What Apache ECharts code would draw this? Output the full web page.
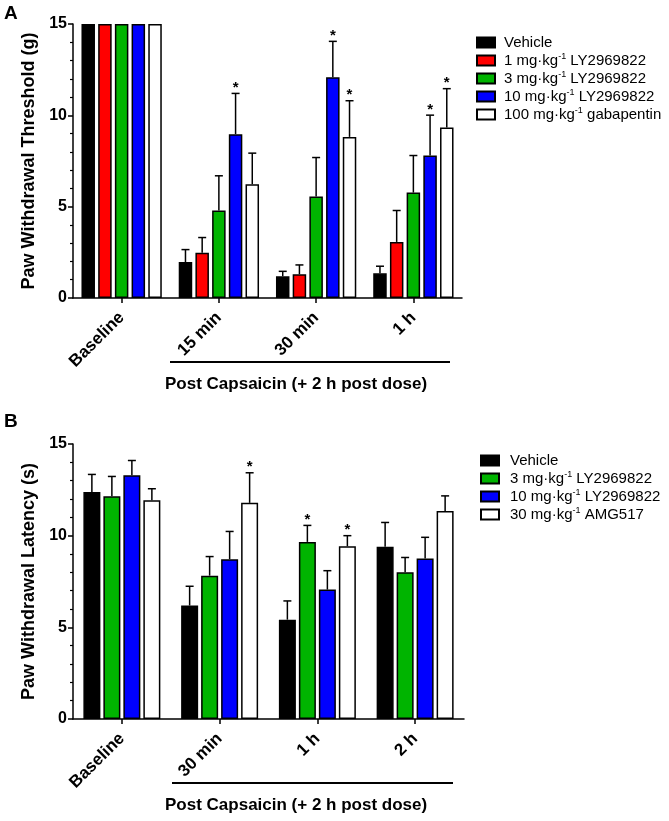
<!DOCTYPE html>
<html>
<head>
<meta charset="utf-8">
<script src="https://cdn.jsdelivr.net/npm/echarts@6/dist/echarts.min.js"></script>
<style>
  html, body { margin: 0; padding: 0; background: #fff; }
  #main { width: 669px; height: 821px; }
</style>
</head>
<body>
<div id="main"></div>
<script>
// panel A - von Frey threshold
var catsA = ['Baseline', '15 min', '30 min', '1 h'];
var namesA = ['Vehicle', '1 mg·kg-1 LY2969822', '3 mg·kg-1 LY2969822', '10 mg·kg-1 LY2969822', '100 mg·kg-1 gabapentin'];
var colorsA = ['#000000', '#ff0000', '#00b400', '#0000ff', '#ffffff'];
var vehicleA = [15, 1.97, 1.19, 1.35];
var ly1A = [15, 2.48, 1.30, 3.07];
var ly3A = [15, 4.79, 5.55, 5.77];
var ly10A = [15, 8.97, 12.09, 7.80];
var gabaA = [15, 6.23, 8.82, 9.34];
var vehicleA_sem = [0, 0.68, 0.27, 0.39];
var ly1A_sem = [0, 0.83, 0.51, 1.72];
var ly3A_sem = [0, 1.90, 2.14, 2.03];
var ly10A_sem = [0, 2.23, 1.96, 2.21];
var gabaA_sem = [0, 1.70, 1.98, 2.12];
var ly10A_sig = [0, 1, 1, 1];
var gabaA_sig = [0, 0, 1, 1];

// panel B - Hargreaves latency
var catsB = ['Baseline', '30 min', '1 h', '2 h'];
var namesB = ['Vehicle', '3 mg·kg-1 LY2969822', '10 mg·kg-1 LY2969822', '30 mg·kg-1 AMG517'];
var colorsB = ['#000000', '#00b400', '#0000ff', '#ffffff'];
var vehicleB = [12.38, 6.19, 5.42, 9.40];
var ly3B = [12.15, 7.82, 9.66, 8.00];
var ly10B = [13.29, 8.72, 7.06, 8.75];
var amgB = [11.93, 11.79, 9.42, 11.34];
var vehicleB_sem = [0.96, 1.05, 1.02, 1.32];
var ly3B_sem = [1.08, 1.04, 0.90, 0.81];
var ly10B_sem = [0.81, 1.51, 1.03, 1.16];
var amgB_sem = [0.63, 1.64, 0.58, 0.83];
var ly3B_sig = [0, 0, 1, 0];
var amgB_sig = [0, 1, 1, 0];

var yTicks = [0, 5, 10, 15];

var FONT = "'Liberation Sans', Arial, sans-serif";
var myChart = echarts.init(document.getElementById('main'));

var panelA = {
    names: namesA, colors: colorsA,
    means: [vehicleA, ly1A, ly3A, ly10A, gabaA],
    sems: [vehicleA_sem, ly1A_sem, ly3A_sem, ly10A_sem, gabaA_sem],
    sigs: [null, null, null, ly10A_sig, gabaA_sig],
    barWidth: 13.5, gap: 3.2
};
var panelB = {
    names: namesB, colors: colorsB,
    means: [vehicleB, ly3B, ly10B, amgB],
    sems: [vehicleB_sem, ly3B_sem, ly10B_sem, amgB_sem],
    sigs: [null, ly3B_sig, null, amgB_sig],
    barWidth: 17, gap: 3
};

function supFormat(name) {
    return name.replace('kg-1', 'kg{sup|-1}');
}

function xAxisFor(cats, gi) {
    return {
        type: 'category', gridIndex: gi, data: cats,
        axisLine: {show: true, lineStyle: {color: '#000', width: 1.5}},
        axisTick: {show: true, alignWithLabel: true, length: 5, lineStyle: {color: '#000', width: 1.5}},
        axisLabel: {rotate: 45, margin: 17, color: '#000', fontSize: 17, fontWeight: 'bold', fontFamily: FONT}
    };
}

function yAxisFor(name, gi) {
    return {
        type: 'value', gridIndex: gi, min: yTicks[0], max: yTicks[yTicks.length - 1], interval: 5,
        name: name, nameLocation: 'middle', nameGap: 35,
        nameTextStyle: {color: '#000', fontSize: 18, fontWeight: 'bold', fontFamily: FONT},
        axisLine: {show: true, lineStyle: {color: '#000', width: 1.5}},
        axisTick: {show: true, length: 5, lineStyle: {color: '#000', width: 1.5}},
        minorTick: {show: true, splitNumber: 5, length: 3, lineStyle: {color: '#000', width: 1.2}},
        splitLine: {show: false},
        axisLabel: {margin: 6, color: '#000', fontSize: 16, fontWeight: 'bold', fontFamily: FONT}
    };
}

function legendFor(panel, left, top, textPad) {
    return {
        data: panel.names, orient: 'vertical', left: left, top: top, padding: 0,
        icon: 'rect', itemWidth: 18, itemHeight: 10, itemGap: 1,
        selectedMode: false,
        formatter: supFormat,
        textStyle: {
            fontSize: 15, fontFamily: FONT, color: '#000', lineHeight: 17, padding: [0, 0, 0, textPad],
            rich: {sup: {fontSize: 9, lineHeight: 9, verticalAlign: 'top', fontFamily: FONT, color: '#000'}}
        }
    };
}

var series = [];
function addPanel(panel, gi) {
    var n = panel.names.length;
    var errData = [];
    for (var k = 0; k < n; k++) {
        series.push({
            name: panel.names[k], type: 'bar', xAxisIndex: gi, yAxisIndex: gi,
            data: panel.means[k],
            barWidth: panel.barWidth,
            barGap: (panel.gap / panel.barWidth * 100).toFixed(1) + '%',
            itemStyle: {color: panel.colors[k], borderColor: '#000', borderWidth: 1.5},
            emphasis: {disabled: true},
            z: 2
        });
        for (var i = 0; i < panel.means[k].length; i++) {
            var m = panel.means[k][i];
            var s = panel.sems[k][i];
            var sig = panel.sigs[k] ? panel.sigs[k][i] : 0;
            errData.push([i, k, m, m + s, sig]);
        }
    }
    var pitch = panel.barWidth + panel.gap;
    series.push({
        type: 'custom', xAxisIndex: gi, yAxisIndex: gi, z: 3,
        data: errData,
        encode: {x: 0, y: 3},
        renderItem: function (params, api) {
            var cat = api.value(0), k = api.value(1), m = api.value(2), t = api.value(3), sig = api.value(4);
            var pb = api.coord([cat, m]);
            var pt = api.coord([cat, t]);
            var x = pb[0] + (k - (n - 1) / 2) * pitch;
            var children = [];
            if (t > m) {
                children.push({type: 'line', shape: {x1: x, y1: pb[1], x2: x, y2: pt[1]}, style: {stroke: '#000', lineWidth: 1.5}});
                children.push({type: 'line', shape: {x1: x - 4, y1: pt[1], x2: x + 4, y2: pt[1]}, style: {stroke: '#000', lineWidth: 1.5}});
            }
            if (sig) {
                children.push({type: 'text', style: {text: '*', x: x, y: pt[1] + 2, align: 'center', verticalAlign: 'bottom',
                    font: 'bold 15px ' + FONT, fill: '#000'}});
            }
            return {type: 'group', children: children};
        }
    });
}
addPanel(panelA, 0);
addPanel(panelB, 1);

var option = {
    animation: false,
    backgroundColor: '#fff',
    textStyle: {fontFamily: FONT},
    grid: [
        {left: 73, top: 24, width: 389, height: 274},
        {left: 73, top: 444, width: 391, height: 275}
    ],
    xAxis: [xAxisFor(catsA, 0), xAxisFor(catsB, 1)],
    yAxis: [yAxisFor('Paw Withdrawal Threshold (g)', 0), yAxisFor('Paw Withdrawal Latency (s)', 1)],
    legend: [legendFor(panelA, 476, 34, 4), legendFor(panelB, 480, 452, 6)],
    series: series,
    graphic: [
        {type: 'text', left: 4, top: 4, style: {text: 'A', font: 'bold 19px ' + FONT, fill: '#000'}},
        {type: 'text', left: 4, top: 412, style: {text: 'B', font: 'bold 19px ' + FONT, fill: '#000'}},
        {type: 'line', shape: {x1: 170, y1: 362, x2: 450, y2: 362}, style: {stroke: '#000', lineWidth: 2}},
        {type: 'text', x: 165, y: 384, style: {text: 'Post Capsaicin (+ 2 h post dose)', font: 'bold 17px ' + FONT, fill: '#000', verticalAlign: 'middle'}},
        {type: 'line', shape: {x1: 172, y1: 783, x2: 453, y2: 783}, style: {stroke: '#000', lineWidth: 2}},
        {type: 'text', x: 165, y: 805, style: {text: 'Post Capsaicin (+ 2 h post dose)', font: 'bold 17px ' + FONT, fill: '#000', verticalAlign: 'middle'}}
    ]
};
myChart.setOption(option);
</script>
</body>
</html>
